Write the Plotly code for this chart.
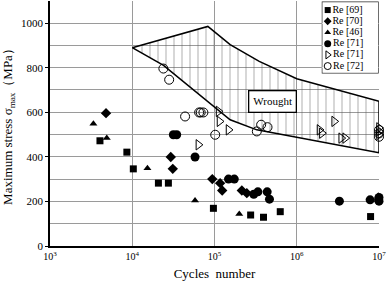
import plotly.graph_objects as go

# ---------------- data ----------------
re69_N = [4.05e3, 8.6e3, 1.03e4, 2.08e4, 2.75e4, 9.7e4, 2.75e5, 3.94e5, 6.3e5, 7.9e6]
re69_S = [472, 421, 346, 282, 282, 169, 139, 129, 154, 132]

re70_N = [4.8e3, 2.94e4, 3.11e4, 9.4e4, 1.17e5, 1.24e5, 2.15e5, 2.47e5]
re70_S = [596, 399, 346, 300, 282, 249, 249, 237]

re46_N = [3.37e3, 4.9e3, 1.53e4, 5.8e4, 2.0e5, 9.8e6]
re46_S = [548, 484, 349, 204, 144, 225]

re71f_N = [3.16e4, 3.47e4, 5.8e4, 1.48e5, 1.74e5, 3.0e5, 3.37e5, 4.37e5, 4.66e5,
           3.3e6, 7.8e6, 1.0e7, 9.9e6, 1.0e7]
re71f_S = [499, 499, 399, 300, 300, 232, 243, 243, 210, 201, 207, 201, 207, 218]

re71o_N = [6.37e4, 1.12e5, 1.15e5, 1.48e5, 1.89e6, 2.02e6, 2.85e6, 3.47e6, 3.88e6,
           1.0e7, 1.0e7, 1.0e7]
re71o_S = [454, 604, 559, 521, 521, 506, 559, 484, 484, 530, 515, 500]

re72_N = [2.39e4, 2.81e4, 4.39e4, 6.5e4, 6.8e4, 7.33e4, 1.02e5, 3.27e5, 3.69e5,
          4.41e5, 1.0e7, 1.0e7, 1.0e7]
re72_S = [796, 746, 581, 599, 599, 599, 499, 514, 544, 533, 520, 505, 490]

wrought_upper_N = [1.0e4, 8.3e4, 1.55e5, 3.5e5, 1.0e6, 1.0e7]
wrought_upper_S = [889, 985, 903, 828, 750, 649]
wrought_lower_N = [1.0e4, 2.4e4, 1.55e5, 3.27e5, 6.3e5, 1.0e7]
wrought_lower_S = [890, 810, 566, 521, 499, 418]

legend_labels = ["Re [69]", "Re [70]", "Re [46]", "Re [71]", "Re [71]", "Re [72]"]
x_tick_vals = [1e3, 1e4, 1e5, 1e6, 1e7]
x_tick_text = ["10<sup>3</sup>", "10<sup>4</sup>", "10<sup>5</sup>", "10<sup>6</sup>", "10<sup>7</sup>"]
y_tick_vals = [0, 200, 400, 600, 800, 1000]

SERIF = "Times New Roman, Liberation Serif, serif"

series = [
    (re69_N, re69_S, dict(symbol="square", size=7, color="black")),
    (re70_N, re70_S, dict(symbol="diamond", size=8, color="black")),
    (re46_N, re46_S, dict(symbol="triangle-up", size=7, color="black")),
    (re71f_N, re71f_S, dict(symbol="circle", size=9, color="black")),
    (re71o_N, re71o_S, dict(symbol="triangle-right-open", size=9, color="black",
                            line=dict(width=1, color="black"))),
    (re72_N, re72_S, dict(symbol="circle-open", size=9, color="black",
                          line=dict(width=1, color="black"))),
]

fig = go.Figure()

# Wrought band (hatched)
fig.add_trace(go.Scatter(
    x=wrought_upper_N + wrought_lower_N[::-1],
    y=wrought_upper_S + wrought_lower_S[::-1],
    mode="lines", fill="toself",
    line=dict(color="black", width=1.5),
    fillcolor="rgba(0,0,0,0)",
    fillpattern=dict(shape="|", size=8, solidity=0.12, fgcolor="#555555"),
    hoverinfo="skip", showlegend=False,
))

for (xs, ys, mk), name in zip(series, legend_labels):
    fig.add_trace(go.Scatter(x=xs, y=ys, mode="markers", marker=mk, name=name,
                             showlegend=False, cliponaxis=False))

# custom compact legend in an inset axis
legend_marker_x = 0.095
for i, ((xs, ys, mk), name) in enumerate(zip(series, legend_labels)):
    m = dict(mk)
    m["size"] = max(6, mk["size"] - 2)
    fig.add_trace(go.Scatter(
        x=[legend_marker_x], y=[i], mode="markers+text", text=[name],
        textposition="middle right", textfont=dict(family=SERIF, size=10, color="black"),
        marker=m, xaxis="x2", yaxis="y2", showlegend=False, hoverinfo="skip",
        cliponaxis=False,
    ))

fig.add_annotation(
    x=5.71, y=650, xref="x", yref="y", text="Wrought", showarrow=False,
    font=dict(family=SERIF, size=11, color="black"),
    bgcolor="white", bordercolor="black", borderwidth=1.3, borderpad=4,
)

fig.add_shape(type="rect", xref="x2 domain", yref="y2 domain", x0=0, x1=1, y0=0, y1=1,
              fillcolor="white", line=dict(color="#222", width=1.3), layer="below")

grid = "#9a9a9a"
fig.update_layout(
    width=388, height=283,
    margin=dict(l=50, r=9, t=1, b=37),
    paper_bgcolor="white", plot_bgcolor="white",
    font=dict(family=SERIF, color="black"),
    xaxis=dict(
        type="log", range=[3, 7], tickvals=x_tick_vals, ticktext=x_tick_text,
        showgrid=True, gridcolor=grid, gridwidth=1,
        showline=True, linecolor="black", linewidth=1.5,
        ticks="", tickfont=dict(family=SERIF, size=10),
        title=dict(text="Cycles  number", font=dict(family=SERIF, size=13), standoff=8),
        zeroline=False,
    ),
    yaxis=dict(
        range=[0, 1099], tickvals=y_tick_vals,
        showgrid=True, gridcolor=grid, gridwidth=1,
        minor=dict(dtick=100, showgrid=True, gridcolor=grid, gridwidth=1, ticks=""),
        showline=True, linecolor="black", linewidth=1.5,
        ticks="outside", ticklen=3, tickcolor="black",
        tickfont=dict(family=SERIF, size=11),
        title=dict(text="Maximum stress σ<sub>max</sub>（MPa）",
                   font=dict(family=SERIF, size=13), standoff=6),
        zeroline=False,
    ),
    xaxis2=dict(domain=[0.828, 0.997], range=[0, 1], anchor="y2", visible=False, fixedrange=True),
    yaxis2=dict(domain=[0.707, 0.995], range=[5.6, -0.7], anchor="x2", visible=False, fixedrange=True),
    showlegend=False,
)

fig.write_html("out.html",
               config={"displayModeBar": False},
               post_script="document.body.style.margin='0';document.body.style.padding='0';")
